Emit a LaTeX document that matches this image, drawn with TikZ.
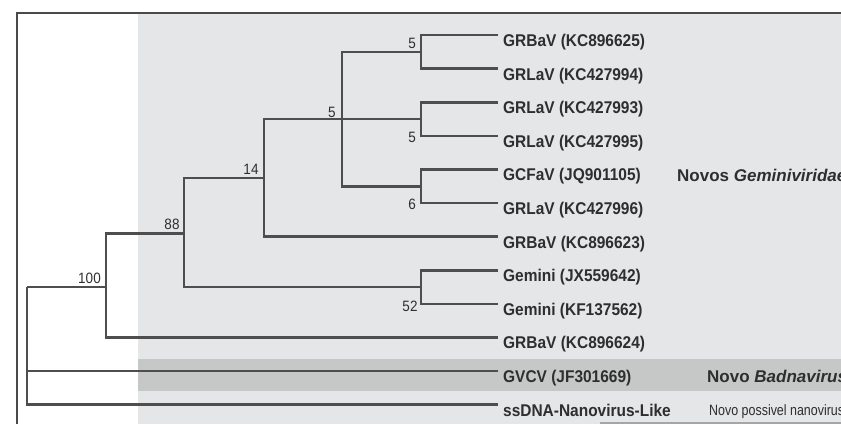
\documentclass[tikz,border=0pt]{standalone}
\usepackage{fontspec}
\setmainfont{Liberation Sans}
\newfontfamily\leaffont[FakeStretch=0.91]{Liberation Sans}
\newfontfamily\numfont[FakeStretch=0.9]{Liberation Sans}
\newfontfamily\notefont{Liberation Sans}
\newfontfamily\smallnotefont[FakeStretch=0.83]{Liberation Sans}
\definecolor{bglight}{HTML}{E4E6E8}
\definecolor{bgdark}{HTML}{C6C8C8}
\definecolor{treegray}{HTML}{4E4E4E}
\definecolor{framegray}{HTML}{4A4A4A}
\definecolor{txt}{HTML}{2E2E2E}
\begin{document}
\begin{tikzpicture}[x=1pt,y=-1pt,
  branch/.style={draw=treegray,line width=2.6pt},
  frameline/.style={draw=framegray,line width=2.4pt},
  leaf/.style={anchor=west,inner xsep=5pt,inner ysep=0pt,text height=23pt,text depth=0pt,
    font=\leaffont\bfseries\fontsize{17}{20}\selectfont,text=txt},
  boot/.style={inner sep=0pt,font=\numfont\fontsize{15}{18}\selectfont,text=txt},
  note/.style={anchor=base west,inner sep=0pt,font=\notefont\bfseries\fontsize{17}{20}\selectfont,text=txt},
  smallnote/.style={anchor=base west,inner sep=0pt,font=\smallnotefont\fontsize{15}{18}\selectfont,text=txt}
]
\useasboundingbox (0,0) rectangle (841,424);
\clip (0,0) rectangle (841,424);
% background panels
\fill[bglight] (138,14) rectangle (841,424);
\fill[bgdark] (138,359) rectangle (841,391);
% frame
\draw[frameline] (17,424) -- (17,13) -- (841,13);
\draw[draw=gray!70,line width=1.5pt] (600,423) -- (841,423);

% leaves
\node[leaf] (l0) at (498,35) {GRBaV (KC896625)};
\node[leaf] (l1) at (498,68.6) {GRLaV (KC427994)};
\node[leaf] (l2) at (498,102.2) {GRLaV (KC427993)};
\node[leaf] (l3) at (498,135.8) {GRLaV (KC427995)};
\node[leaf] (l4) at (498,169.4) {GCFaV (JQ901105)};
\node[leaf] (l5) at (498,203) {GRLaV (KC427996)};
\node[leaf] (l6) at (498,236.6) {GRBaV (KC896623)};
\node[leaf] (l7) at (498,270.2) {Gemini (JX559642)};
\node[leaf] (l8) at (498,303.8) {Gemini (KF137562)};
\node[leaf] (l9) at (498,337.4) {GRBaV (KC896624)};
\node[leaf] (l10) at (498,371) {GVCV (JF301669)};
\node[leaf] (l11) at (498,404.6) {ssDNA-Nanovirus-Like};

% internal nodes
\coordinate (nA) at (421,51.8);
\coordinate (nB) at (421,119);
\coordinate (nC) at (421,186.2);
\coordinate (nD) at (342,119);
\coordinate (nE) at (264,177.8);
\coordinate (nF) at (184,233.5);
\coordinate (nG) at (421,287);
\coordinate (nH) at (106,287);
\coordinate (nR) at (27,287);

% branches
\draw[branch] (nA) |- (l0.west);
\draw[branch] (nA) |- (l1.west);
\draw[branch] (nB) |- (l2.west);
\draw[branch] (nB) |- (l3.west);
\draw[branch] (nC) |- (l4.west);
\draw[branch] (nC) |- (l5.west);
\draw[branch] (nD) |- (nA);
\draw[branch] (nD) |- (nC);
\draw[branch] (nD) -- (nB);
\draw[branch] (nE) |- (nD);
\draw[branch] (nE) |- (l6.west);
\draw[branch] (nG) |- (l7.west);
\draw[branch] (nG) |- (l8.west);
\draw[branch] (nF) |- (nE);
\draw[branch] (nF) |- (nG);
\draw[branch] (nH) |- (nF);
\draw[branch] (nH) |- (l9.west);
\draw[branch] (nR) -- (nH);
\draw[branch] (nR) |- (l10.west);
\draw[branch] (nR) |- (l11.west);

% bootstrap values
\node[boot] (b1) at (412,43.5) {5};
\node[boot] (b2) at (332,112) {5};
\node[boot] (b3) at (412,137.5) {5};
\node[boot] (b4) at (251,169) {14};
\node[boot] (b5) at (412,204.5) {6};
\node[boot] (b6) at (172,224.5) {88};
\node[boot] (b7) at (89.5,278.5) {100};
\node[boot] (b8) at (410,306) {52};

% group notes (cut off at the right edge, as in the reference)
\node[note] (g1) at (677,181) {Novos \textit{Geminiviridae}};
\node[note] (g2) at (707,382.5) {Novo \textit{Badnavirus}};
\node[smallnote] (g3) at (709,415.5) {Novo possivel nanovirus};
\end{tikzpicture}
\end{document}
